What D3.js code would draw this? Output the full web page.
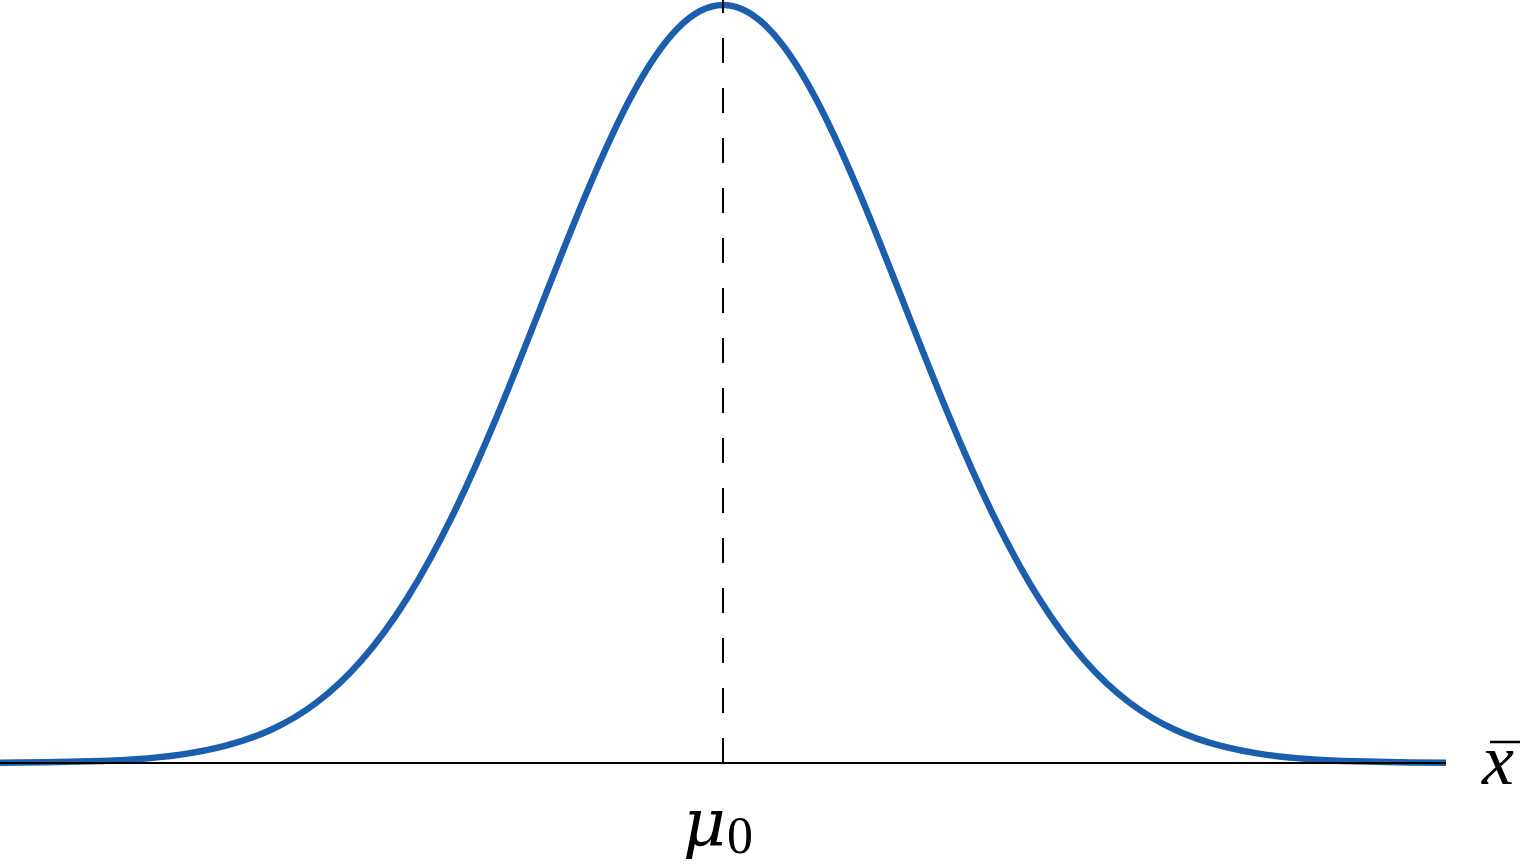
<!DOCTYPE html>
<html>
<head>
<meta charset="utf-8">
<script src="https://cdn.jsdelivr.net/npm/d3@7"></script>
<style>
  html, body { margin: 0; padding: 0; background: #fff; }
  svg { display: block; }
</style>
</head>
<body>
<svg id="chart" width="1522" height="865"></svg>
<script>
// Standardised positions along x̄ (in standard errors from μ0)
const zValues = [-4, -3.75, -3.5, -3.25, -3, -2.75, -2.5, -2.25, -2, -1.75, -1.5, -1.25, -1, -0.75, -0.5, -0.25,
                 0, 0.25, 0.5, 0.75, 1, 1.25, 1.5, 1.75, 2, 2.25, 2.5, 2.75, 3, 3.25, 3.5, 3.75, 4];
// Density heights
const density = [0.0001, 0.0004, 0.0009, 0.0020, 0.0044, 0.0091, 0.0175, 0.0317, 0.0540, 0.0863, 0.1295, 0.1826,
                 0.2420, 0.3011, 0.3521, 0.3867, 0.3989, 0.3867, 0.3521, 0.3011, 0.2420, 0.1826, 0.1295, 0.0863,
                 0.0540, 0.0317, 0.0175, 0.0091, 0.0044, 0.0020, 0.0009, 0.0004, 0.0001];
const meanValue = 0;
const meanLabel = "μ";
const meanSub = "0";
const axisLabel = "x";

const svg = d3.select("#chart");
const x = d3.scaleLinear().domain([-4, 4]).range([0, 1446]);
const y = d3.scaleLinear().domain([0, 0.3989]).range([763, 5]);

const pts = zValues.map((z, i) => ({ z, d: density[i] }));

const line = d3.line()
  .x(p => x(p.z))
  .y(p => y(p.d))
  .curve(d3.curveNatural);

svg.append("path")
  .datum(pts)
  .attr("d", line)
  .attr("fill", "none")
  .attr("stroke", "#1b5eae")
  .attr("stroke-width", 6.5);

// baseline (x̄ axis)
svg.append("line")
  .attr("x1", x(-4)).attr("x2", x(4))
  .attr("y1", y(0)).attr("y2", y(0))
  .attr("stroke", "#000").attr("stroke-width", 2);

// dashed line at mean, drawn from baseline upward
svg.append("line")
  .attr("x1", x(meanValue)).attr("x2", x(meanValue))
  .attr("y1", y(0)).attr("y2", 0)
  .attr("stroke", "#000").attr("stroke-width", 2)
  .attr("stroke-dasharray", "25,25");

// μ0 label
const mu = svg.append("text")
  .attr("x", x(meanValue) - 40)
  .attr("y", 845)
  .attr("font-family", "'DejaVu Serif', 'Liberation Serif', serif")
  .attr("font-size", 66)
  .attr("font-style", "italic")
  .attr("fill", "#000")
  .text(meanLabel);
const muEnd = x(meanValue) - 40 + mu.node().getComputedTextLength();
svg.append("text")
  .attr("x", Math.max(muEnd + 1, x(meanValue) + 2))
  .attr("y", 853)
  .attr("font-family", "'Liberation Serif', serif")
  .attr("font-size", 52)
  .attr("fill", "#000")
  .text(meanSub);

// x̄ label
svg.append("text")
  .attr("x", 1482)
  .attr("y", 784)
  .attr("font-family", "'Liberation Serif', 'DejaVu Serif', serif")
  .attr("font-size", 72)
  .attr("font-style", "italic")
  .attr("fill", "#000")
  .text(axisLabel);
svg.append("line")
  .attr("x1", 1490).attr("x2", 1520)
  .attr("y1", 742).attr("y2", 742)
  .attr("stroke", "#000").attr("stroke-width", 2.5);
</script>
</body>
</html>
